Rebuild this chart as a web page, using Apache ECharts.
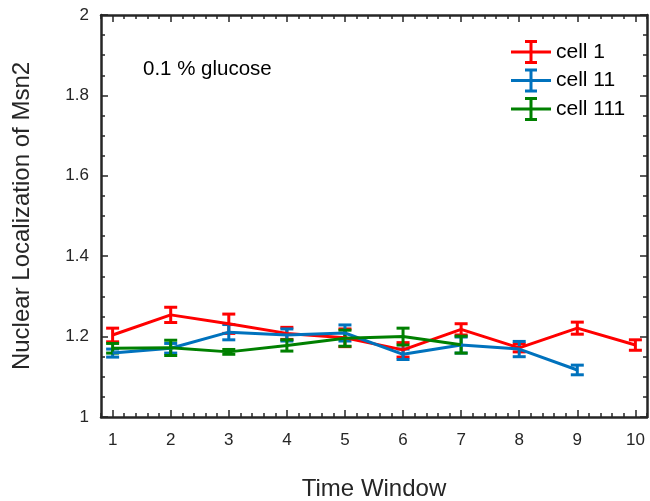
<!DOCTYPE html>
<html>
<head>
<meta charset="utf-8">
<script src="https://cdn.jsdelivr.net/npm/echarts@6/dist/echarts.min.js"></script>
<style>
  html, body { margin: 0; padding: 0; background: #fff; }
  #chart { width: 650px; height: 501px; }
</style>
</head>
<body>
<div id="chart"></div>
<script>
let timeWindow = [1, 2, 3, 4, 5, 6, 7, 8, 9, 10]
let yTicks = [1, 1.2, 1.4, 1.6, 1.8, 2]

let cell1Mean = [1.204, 1.254, 1.232, 1.208, 1.197, 1.167, 1.218, 1.172, 1.221, 1.179]
let cell1Err = [0.017, 0.019, 0.024, 0.015, 0.022, 0.018, 0.014, 0.01, 0.015, 0.013]
let cell11Mean = [1.159, 1.171, 1.211, 1.204, 1.209, 1.156, 1.179, 1.169, 1.117]
let cell11Err = [0.01, 0.012, 0.019, 0.015, 0.02, 0.013, 0.02, 0.019, 0.012]
let cell111Mean = [1.171, 1.172, 1.162, 1.178, 1.196, 1.2, 1.18]
let cell111Err = [0.012, 0.019, 0.006, 0.014, 0.02, 0.021, 0.021]

let axisColor = '#262626'
let fontFamily = 'Liberation Sans, Arial, sans-serif'

let chart = echarts.init(document.getElementById('chart'))

function linePoints(mean) {
    return mean.map((v, i) => [timeWindow[i], v])
}
function errPoints(mean, err) {
    return mean.map((v, i) => [timeWindow[i], v - err[i], v + err[i]])
}

// error bar: stem + two caps
function renderErr(color) {
    return function (params, api) {
        let x = api.value(0)
        let top = api.coord([x, api.value(2)])
        let bot = api.coord([x, api.value(1)])
        let hw = 6.5
        let style = { stroke: color, lineWidth: 3 }
        return {
            type: 'group',
            children: [
                { type: 'line', shape: { x1: top[0], y1: top[1], x2: bot[0], y2: bot[1] }, style: style },
                { type: 'line', shape: { x1: top[0] - hw, y1: top[1], x2: top[0] + hw, y2: top[1] }, style: style },
                { type: 'line', shape: { x1: bot[0] - hw, y1: bot[1], x2: bot[0] + hw, y2: bot[1] }, style: style }
            ]
        }
    }
}

let cells = [
    { name: 'cell 1', color: '#ff0000', mean: cell1Mean, err: cell1Err },
    { name: 'cell 11', color: '#0072bd', mean: cell11Mean, err: cell11Err },
    { name: 'cell 111', color: '#008000', mean: cell111Mean, err: cell111Err }
]

let series = []
cells.forEach(c => {
    series.push({
        name: c.name,
        type: 'line',
        data: linePoints(c.mean),
        symbol: 'none',
        color: c.color,
        lineStyle: { width: 3, color: c.color },
        silent: true
    })
    series.push({
        type: 'custom',
        data: errPoints(c.mean, c.err),
        encode: { x: 0, y: [1, 2] },
        renderItem: renderErr(c.color),
        silent: true
    })
})

function xAxisDef(position, major, withLabel) {
    return {
        type: 'value',
        position: position,
        min: 0.8,
        max: 10.2,
        interval: major ? undefined : 0.2,
        axisLine: { show: major, lineStyle: { color: axisColor, width: 2.5 } },
        axisTick: major
            ? { show: true, inside: true, length: 7, customValues: timeWindow, lineStyle: { color: axisColor, width: 1.5 } }
            : { show: true, inside: true, length: 4, lineStyle: { color: axisColor, width: 1.5 } },
        axisLabel: withLabel
            ? { show: true, customValues: timeWindow, color: axisColor, fontSize: 17, fontFamily: fontFamily, margin: 15 }
            : { show: false },
        splitLine: { show: false },
        name: withLabel ? 'Time Window' : '',
        nameLocation: 'middle',
        nameGap: 60,
        nameTextStyle: { color: axisColor, fontSize: 24, fontFamily: fontFamily }
    }
}

function yAxisDef(position, withLabel) {
    return {
        type: 'value',
        position: position,
        min: 1,
        max: 2,
        interval: 0.2,
        axisLine: { show: true, lineStyle: { color: axisColor, width: 2.5 } },
        axisTick: { show: true, inside: true, length: 7, lineStyle: { color: axisColor, width: 1.5 } },
        minorTick: { show: true, splitNumber: 4, length: 4, lineStyle: { color: axisColor, width: 1.5 } },
        axisLabel: withLabel
            ? { show: true, color: axisColor, fontSize: 17, fontFamily: fontFamily, margin: 12,
                formatter: v => String(Math.round(v * 10) / 10) }
            : { show: false },
        splitLine: { show: false },
        name: withLabel ? 'Nuclear Localization of Msn2' : '',
        nameLocation: 'middle',
        nameGap: 67,
        nameTextStyle: { color: axisColor, fontSize: 24, fontFamily: fontFamily }
    }
}

let errIcon = 'path://M0,10.5H40V13.5H0Z M14,0H26V3H21.5V21H26V24H14V21H18.5V3H14Z'

let option = {
    animation: false,
    backgroundColor: '#fff',
    grid: { left: 101, right: 3, top: 15, bottom: 84, outerBoundsMode: 'none' },
    xAxis: [
        xAxisDef('bottom', true, true),
        xAxisDef('bottom', false, false),
        xAxisDef('top', true, false),
        xAxisDef('top', false, false)
    ],
    yAxis: [
        yAxisDef('left', true),
        yAxisDef('right', false)
    ],
    legend: {
        orient: 'vertical',
        left: 511,
        top: 40,
        padding: 0,
        itemWidth: 40,
        itemHeight: 24,
        itemGap: 4.5,
        data: cells.map(c => ({ name: c.name, icon: errIcon })),
        textStyle: { color: '#000', fontSize: 21, fontFamily: fontFamily }
    },
    graphic: [{
        type: 'text',
        left: 143,
        top: 59,
        style: { text: '0.1 % glucose', fill: '#000', fontSize: 20.5, fontFamily: fontFamily }
    }],
    series: series
}
chart.setOption(option)
</script>
</body>
</html>
